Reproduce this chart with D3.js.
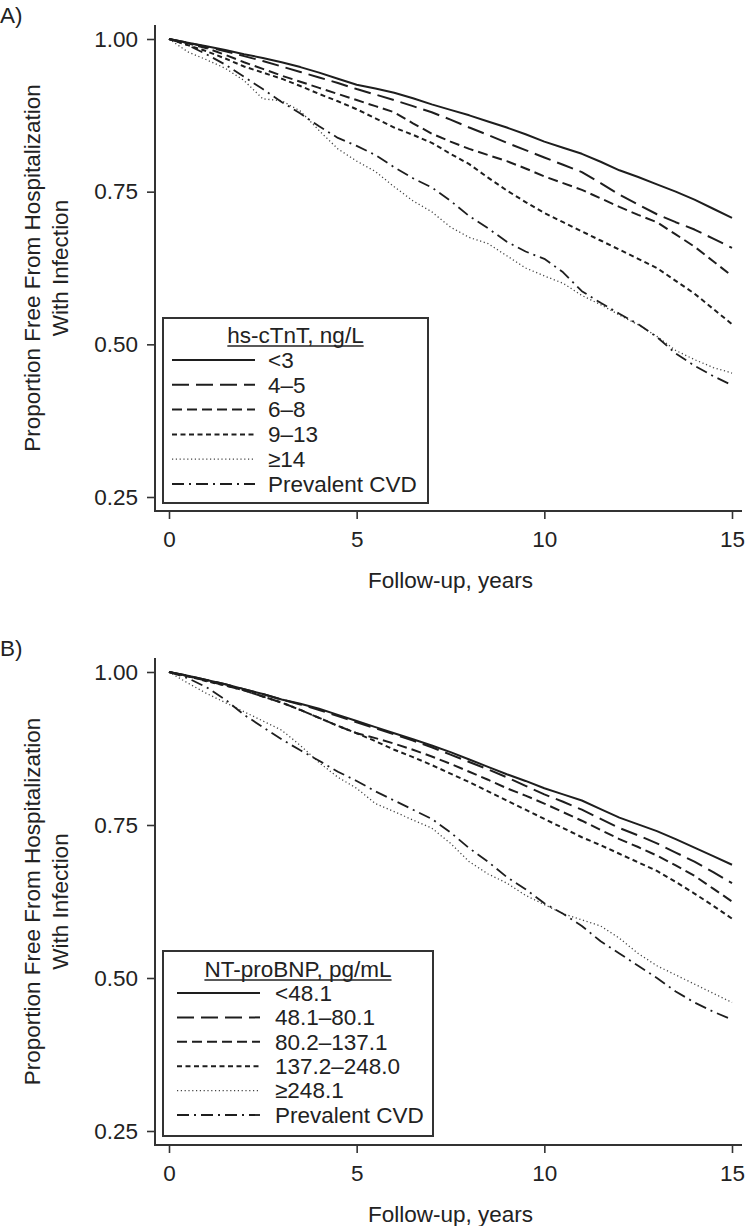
<!DOCTYPE html>
<html><head><meta charset="utf-8">
<script src="https://cdn.jsdelivr.net/npm/d3@7"></script>
<style>
html,body{margin:0;padding:0;background:#fff;}
text{font-family:"Liberation Sans",Arial,Helvetica,sans-serif;fill:#222;}
</style></head>
<body><svg id="c" width="746" height="1226"></svg>
<script>
// ---------- data ----------
const years = [0,0.5,1,1.5,2,2.5,3,3.5,4,4.5,5,5.5,6,6.5,7,7.5,8,8.5,9,9.5,10,10.5,11,11.5,12,12.5,13,13.5,14,14.5,15];
const xTicks = [0,5,10,15];
const yTicks = [0.25,0.50,0.75,1.00];
const styleKeys = ["solid","long","dash","short","dot","dashdot"];

// Panel A: hs-cTnT
const legendTitleA = "hs-cTnT, ng/L";
const labelsA = ["<3","4\u20135","6\u20138","9\u201313","\u226514","Prevalent CVD"];
const a_lt3   = [1,0.994,0.988,0.982,0.975,0.969,0.962,0.954,0.945,0.935,0.925,0.919,0.912,0.903,0.893,0.884,0.875,0.865,0.855,0.844,0.832,0.822,0.812,0.799,0.785,0.774,0.762,0.750,0.737,0.722,0.707];
const a_4_5   = [1,0.994,0.987,0.980,0.972,0.964,0.955,0.946,0.937,0.928,0.918,0.909,0.900,0.890,0.880,0.868,0.855,0.843,0.830,0.818,0.806,0.794,0.782,0.764,0.745,0.729,0.713,0.700,0.688,0.673,0.658];
const a_6_8   = [1,0.993,0.985,0.974,0.962,0.951,0.940,0.930,0.920,0.910,0.900,0.890,0.880,0.862,0.845,0.832,0.820,0.810,0.800,0.788,0.775,0.764,0.753,0.739,0.725,0.712,0.700,0.680,0.660,0.636,0.612];
const a_9_13  = [1,0.990,0.980,0.968,0.955,0.945,0.935,0.923,0.910,0.898,0.885,0.870,0.855,0.843,0.830,0.812,0.795,0.773,0.752,0.733,0.715,0.700,0.685,0.670,0.655,0.640,0.625,0.604,0.583,0.558,0.533];
const a_ge14  = [1,0.979,0.966,0.952,0.932,0.902,0.899,0.882,0.850,0.820,0.800,0.783,0.758,0.735,0.717,0.692,0.675,0.665,0.645,0.625,0.612,0.600,0.580,0.565,0.548,0.532,0.513,0.490,0.475,0.462,0.453];
const a_cvd   = [1,0.990,0.975,0.958,0.938,0.918,0.897,0.878,0.857,0.838,0.825,0.810,0.790,0.772,0.757,0.735,0.710,0.690,0.668,0.652,0.640,0.618,0.587,0.568,0.550,0.533,0.512,0.485,0.465,0.448,0.433];

// Panel B: NT-proBNP
const legendTitleB = "NT-proBNP, pg/mL";
const labelsB = ["<48.1","48.1\u201380.1","80.2\u2013137.1","137.2\u2013248.0","\u2265248.1","Prevalent CVD"];
const b_lt48  = [1,0.994,0.987,0.980,0.972,0.964,0.955,0.948,0.940,0.930,0.920,0.910,0.900,0.890,0.880,0.869,0.857,0.845,0.833,0.822,0.810,0.800,0.790,0.776,0.762,0.751,0.740,0.727,0.713,0.699,0.685];
const b_48_80 = [1,0.994,0.987,0.980,0.972,0.964,0.955,0.947,0.938,0.928,0.918,0.908,0.898,0.888,0.877,0.865,0.853,0.841,0.828,0.814,0.800,0.788,0.775,0.760,0.745,0.733,0.720,0.705,0.690,0.673,0.655];
const b_80_137= [1,0.993,0.986,0.978,0.970,0.960,0.950,0.938,0.925,0.912,0.900,0.892,0.883,0.873,0.862,0.850,0.837,0.824,0.810,0.798,0.785,0.771,0.757,0.742,0.727,0.714,0.700,0.684,0.667,0.646,0.625];
const b_137_248=[1,0.993,0.985,0.978,0.970,0.960,0.950,0.938,0.925,0.912,0.900,0.887,0.873,0.861,0.848,0.834,0.820,0.805,0.790,0.775,0.760,0.745,0.730,0.717,0.703,0.689,0.675,0.657,0.638,0.618,0.597];
const b_ge248 = [1,0.982,0.965,0.950,0.935,0.920,0.905,0.880,0.852,0.828,0.810,0.785,0.772,0.758,0.745,0.720,0.690,0.670,0.655,0.635,0.620,0.605,0.595,0.585,0.565,0.540,0.520,0.505,0.490,0.475,0.460];
const b_cvd   = [1,0.990,0.975,0.955,0.930,0.910,0.890,0.872,0.855,0.837,0.822,0.805,0.790,0.775,0.760,0.738,0.712,0.690,0.665,0.645,0.622,0.605,0.585,0.560,0.540,0.520,0.500,0.478,0.460,0.445,0.432];

const seriesA = [a_lt3,a_4_5,a_6_8,a_9_13,a_ge14,a_cvd];
const seriesB = [b_lt48,b_48_80,b_80_137,b_137_248,b_ge248,b_cvd];

// ---------- styles ----------
const lineStyle = {
  solid:   {dash:null,        w:2.0, c:"#1e1e1e"},
  long:    {dash:"17,7",      w:2.0, c:"#1e1e1e"},
  dash:    {dash:"10,5",      w:2.0, c:"#1e1e1e"},
  short:   {dash:"5,3.5",     w:2.0, c:"#1e1e1e"},
  dot:     {dash:"1.2,2.6",   w:1.3, c:"#444"},
  dashdot: {dash:"12,5,2,5",  w:1.8, c:"#1e1e1e"}
};

const svg = d3.select("#c");
const FS = 22.5;

function panel(opt){
  const g = svg.append("g");
  const x = d3.scaleLinear().domain([0,15]).range([169,732]);
  const y = d3.scaleLinear().domain([0.25,1]).range([opt.y025, opt.y1]);
  const axX = 155, axY = opt.y025 + 14;

  // panel label
  g.append("text").attr("x",0).attr("y",opt.y1-16).style("font-size",FS+"px").text(opt.label);

  // axis lines
  g.append("line").attr("x1",axX).attr("x2",axX).attr("y1",opt.y1-14).attr("y2",axY+1)
    .attr("stroke","#333").attr("stroke-width",2);
  g.append("line").attr("x1",axX-1).attr("x2",742).attr("y1",axY).attr("y2",axY)
    .attr("stroke","#333").attr("stroke-width",2);

  // y axis ticks
  const ya = g.append("g").attr("transform",`translate(${axX},0)`)
    .call(d3.axisLeft(y).tickValues(yTicks).tickFormat(d3.format(".2f")).tickSize(8).tickPadding(9));
  ya.select(".domain").remove();
  ya.selectAll(".tick line").attr("stroke","#333").attr("stroke-width",1.6);
  ya.selectAll(".tick text").style("font-size",FS+"px").style("font-family","Liberation Sans, Arial, sans-serif").attr("fill","#222");

  // x axis ticks
  const xa = g.append("g").attr("transform",`translate(0,${axY})`)
    .call(d3.axisBottom(x).tickValues(xTicks).tickFormat(d3.format("d")).tickSize(8).tickPadding(12));
  xa.select(".domain").remove();
  xa.selectAll(".tick line").attr("stroke","#333").attr("stroke-width",1.6);
  xa.selectAll(".tick text").style("font-size",FS+"px").style("font-family","Liberation Sans, Arial, sans-serif").attr("fill","#222");

  // axis titles
  g.append("text").attr("x",(169+732)/2).attr("y",axY+77).attr("text-anchor","middle")
    .style("font-size",FS+"px").text("Follow-up, years");
  const cy = (opt.y1-14+axY)/2;
  g.append("text").attr("transform",`translate(40,${cy}) rotate(-90)`).attr("text-anchor","middle")
    .style("font-size",FS+"px").text("Proportion Free From Hospitalization");
  g.append("text").attr("transform",`translate(68,${cy}) rotate(-90)`).attr("text-anchor","middle")
    .style("font-size",FS+"px").text("With Infection");

  // curves
  const line = d3.line().x((d,i)=>x(years[i])).y(d=>y(d)).curve(d3.curveLinear);
  opt.series.forEach((s,i)=>{
    const st = lineStyle[styleKeys[i]];
    g.append("path").datum(s).attr("d",line).attr("fill","none")
      .attr("stroke",st.c).attr("stroke-width",st.w)
      .attr("stroke-dasharray",st.dash).attr("stroke-linejoin","round");
  });

  // legend
  const L = opt.legend;
  g.append("rect").attr("x",L.x0).attr("y",L.top).attr("width",L.x1-L.x0).attr("height",L.bottom-L.top)
    .attr("fill","#fff").attr("stroke","#333").attr("stroke-width",2);
  const tt = g.append("text").attr("x",(L.x0+L.x1)/2).attr("y",L.title).attr("dy","0.35em")
    .attr("text-anchor","middle").style("font-size",FS+"px").text(opt.legendTitle);
  const tw = tt.node().getComputedTextLength();
  g.append("line").attr("x1",(L.x0+L.x1)/2-tw/2).attr("x2",(L.x0+L.x1)/2+tw/2)
    .attr("y1",L.title+11).attr("y2",L.title+11).attr("stroke","#222").attr("stroke-width",1.4);
  opt.labels.forEach((lab,i)=>{
    const yy = L.row0 + i*L.step;
    const st = lineStyle[styleKeys[i]];
    g.append("line").attr("x1",L.lx0).attr("x2",L.lx1).attr("y1",yy).attr("y2",yy)
      .attr("stroke",st.c).attr("stroke-width",st.w).attr("stroke-dasharray",st.dash);
    g.append("text").attr("x",L.tx).attr("y",yy).attr("dy","0.35em").style("font-size",FS+"px").text(lab);
  });
}

panel({label:"A)", y1:39, y025:497, series:seriesA, labels:labelsA, legendTitle:legendTitleA,
  legend:{x0:163,x1:428,top:318,bottom:503,title:335,row0:360,step:24.8,lx0:172,lx1:255,tx:268}});
panel({label:"B)", y1:672, y025:1131, series:seriesB, labels:labelsB, legendTitle:legendTitleB,
  legend:{x0:163,x1:433,top:951,bottom:1136,title:969,row0:993,step:24.4,lx0:177,lx1:260,tx:275}});
</script></body></html>
